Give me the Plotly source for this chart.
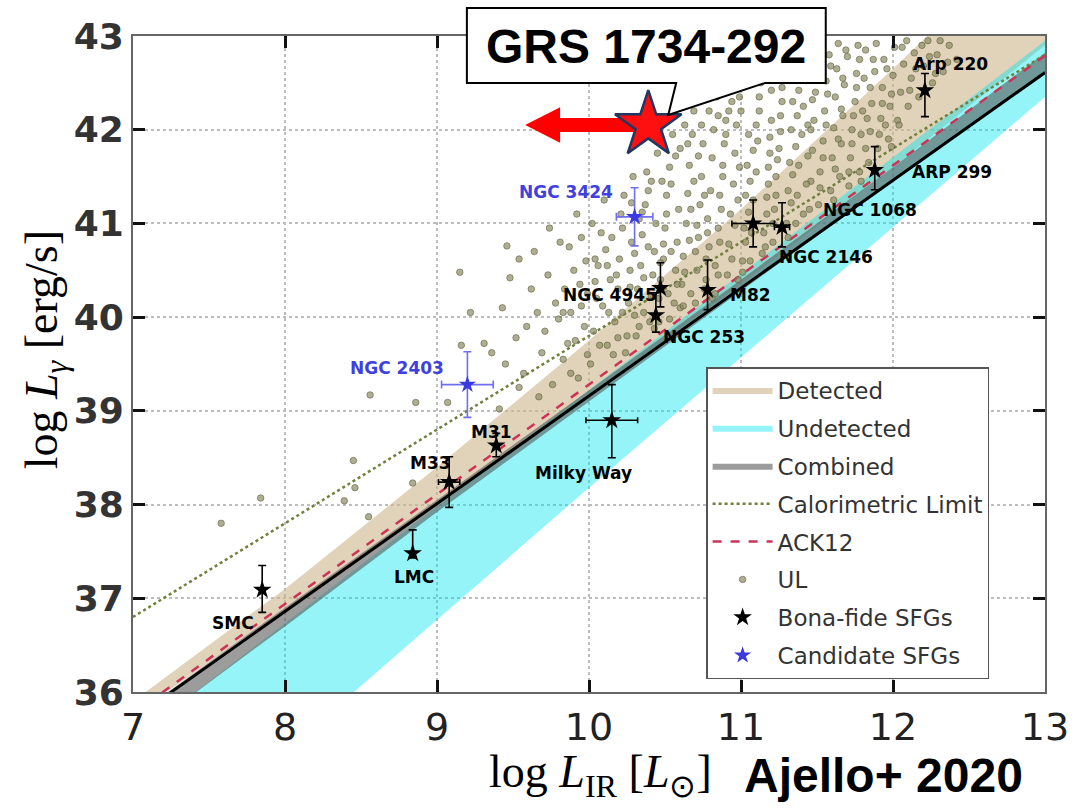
import plotly.graph_objects as go

# ---------------- data ----------------
# confidence bands of the L_IR - L_gamma fits, sampled at integer log L_IR
band_x = [7, 8, 9, 10, 11, 12, 13]
detected_lo = [35.75, 36.88, 38.02, 39.17, 40.35, 41.60, 42.90]
detected_hi = [35.90, 37.10, 38.40, 39.75, 41.15, 42.65, 44.20]
undetected_lo = [33.95, 35.35, 36.77, 38.18, 39.57, 40.96, 42.35]
undetected_hi = [35.49, 36.73, 37.98, 39.22, 40.46, 41.71, 42.95]
combined_lo = [35.50, 36.70, 37.92, 39.10, 40.28, 41.45, 42.60]
combined_hi = [35.73, 36.90, 38.05, 39.22, 40.40, 41.60, 42.82]

# straight relations: log Lg = norm + slope * (log L_IR - 10)
fit_norm, fit_slope = 39.16, 1.15          # best-fit (combined)
ack12_norm, ack12_slope = 39.28, 1.17      # Ackermann et al. 2012
calor_norm, calor_slope = 39.80, 1.00      # calorimetric limit

# bona-fide star-forming galaxies
sfg_names = ["SMC", "LMC", "M33", "M31", "Milky Way", "NGC 253", "NGC 4945",
             "M82", "NGC 2146", "NGC 1068", "ARP 299", "Arp 220"]
sfg_lir = [7.85, 8.84, 9.08, 9.39, 10.15, 10.44, 10.47, 10.78, 11.08, 11.27, 11.88, 12.21]
sfg_lg = [37.09, 37.48, 38.24, 38.63, 38.90, 40.02, 40.31, 40.29, 41.00, 40.96, 41.57, 42.42]
sfg_lg_up = [0.26, 0.25, 0.27, 0.13, 0.38, 0.24, 0.27, 0.32, 0.25, 0.26, 0.25, 0.18]
sfg_lg_dn = [0.24, 0.05, 0.27, 0.12, 0.40, 0.18, 0.20, 0.21, 0.25, 0.21, 0.21, 0.28]
sfg_lir_err = [0, 0, 0.07, 0, 0.17, 0, 0, 0, 0.14, 0.05, 0, 0]

# candidate star-forming galaxies
cand_names = ["NGC 2403", "NGC 3424"]
cand_lir = [9.20, 10.30]
cand_lg = [39.28, 41.07]
cand_lg_err = [0.35, 0.31]
cand_lir_err = [0.17, 0.12]

# GRS 1734-292 (upper limit on L_IR)
grs_lir, grs_lg, grs_lir_limit = 10.39, 42.05, 9.58

# upper limits of undetected galaxies (log L_IR, log L_gamma)
ul_points = [
    (9.41, 39.02), (9.45, 39.50), (9.43, 40.10), (9.52, 39.78), (9.48, 40.42), (9.54, 39.25),
    (9.57, 39.40), (9.59, 39.90), (9.62, 40.30), (9.64, 40.70), (9.67, 39.15), (9.69, 39.62), (9.66, 40.05),
    (9.71, 39.85), (9.73, 40.45), (9.76, 39.28), (9.78, 40.15), (9.81, 40.80), (9.83, 39.55), (9.84, 40.30),
    (9.80, 39.98), (9.74, 40.95),
    (9.86, 39.72), (9.88, 40.05), (9.90, 40.50), (9.93, 39.35), (9.95, 40.85), (9.97, 39.90), (9.99, 40.25),
    (9.92, 41.10), (9.98, 40.60), (9.87, 40.75),
    (10.01, 39.50), (10.03, 39.85), (10.05, 40.20), (10.06, 40.55), (10.08, 40.90), (10.10, 41.25),
    (10.12, 39.70), (10.13, 40.05), (10.14, 40.40), (10.02, 41.00), (10.11, 40.72), (10.04, 40.38),
    (10.16, 39.60), (10.17, 39.95), (10.19, 40.30), (10.20, 40.62), (10.22, 40.95), (10.23, 41.30),
    (10.25, 39.80), (10.26, 40.15), (10.27, 40.50), (10.28, 40.80), (10.29, 41.50), (10.21, 41.10),
    (10.18, 40.45), (10.30, 40.02),
    (10.31, 39.80), (10.32, 40.30), (10.34, 40.55), (10.35, 40.88), (10.37, 41.20), (10.38, 41.55),
    (10.40, 39.95), (10.41, 40.22), (10.43, 40.70), (10.44, 41.00), (10.45, 41.75), (10.36, 40.05),
    (10.39, 41.35), (10.42, 40.45), (10.33, 41.05),
    (10.46, 39.95), (10.47, 40.40), (10.49, 40.62), (10.50, 40.95), (10.51, 41.30), (10.53, 41.60),
    (10.55, 41.95), (10.56, 40.15), (10.57, 40.50), (10.58, 40.80), (10.59, 41.15), (10.48, 41.45),
    (10.52, 40.25), (10.60, 41.80), (10.54, 40.70), (10.60, 40.10),
    (10.61, 40.35), (10.62, 40.65), (10.64, 41.00), (10.65, 41.32), (10.66, 41.62), (10.68, 41.95),
    (10.69, 42.20), (10.70, 40.15), (10.71, 40.50), (10.72, 40.85), (10.73, 41.20), (10.74, 41.50),
    (10.63, 42.05), (10.67, 40.25), (10.75, 41.85), (10.70, 40.70),
    (10.76, 40.30), (10.77, 40.62), (10.78, 41.05), (10.80, 41.35), (10.81, 41.70), (10.82, 42.00),
    (10.84, 42.35), (10.85, 40.45), (10.86, 40.80), (10.87, 41.15), (10.88, 41.50), (10.89, 41.85),
    (10.79, 42.20), (10.83, 40.25), (10.90, 42.10), (10.78, 40.90),
    (10.91, 40.45), (10.92, 40.78), (10.93, 41.10), (10.95, 41.42), (10.96, 41.75), (10.97, 42.05),
    (10.99, 42.35), (11.00, 42.60), (11.01, 40.60), (11.02, 40.95), (11.03, 41.30), (11.04, 41.62),
    (10.94, 42.30), (11.05, 41.95), (10.98, 40.40), (11.00, 42.20),
    (11.06, 40.60), (11.07, 40.90), (11.08, 41.25), (11.10, 41.55), (11.11, 41.88), (11.12, 42.20),
    (11.13, 42.50), (11.15, 42.80), (11.16, 40.75), (11.17, 41.10), (11.18, 41.42), (11.19, 41.75),
    (11.20, 42.10), (11.09, 42.65), (11.14, 40.68), (11.20, 42.42),
    (11.21, 40.80), (11.22, 41.15), (11.23, 41.50), (11.25, 41.80), (11.26, 42.15), (11.27, 42.45),
    (11.28, 42.75), (11.29, 42.95), (11.30, 41.00), (11.31, 41.35), (11.32, 41.65), (11.33, 42.00),
    (11.34, 42.30), (11.35, 42.60), (11.24, 42.55), (11.30, 42.85),
    (11.36, 41.00), (11.37, 41.30), (11.38, 41.62), (11.40, 41.95), (11.41, 42.25), (11.42, 42.55),
    (11.43, 42.85), (11.45, 41.15), (11.46, 41.45), (11.47, 41.78), (11.48, 42.10), (11.49, 42.40),
    (11.50, 42.70), (11.39, 42.92), (11.44, 42.05),
    (11.51, 41.20), (11.52, 41.55), (11.54, 41.88), (11.55, 42.20), (11.56, 42.52), (11.58, 42.80),
    (11.59, 41.35), (11.60, 41.70), (11.61, 42.02), (11.62, 42.35), (11.63, 42.65), (11.64, 42.92),
    (11.53, 42.95), (11.65, 41.50),
    (11.66, 41.85), (11.67, 42.15), (11.68, 42.48), (11.70, 42.78), (11.71, 41.40), (11.72, 41.70),
    (11.73, 42.00), (11.75, 42.30), (11.76, 42.60), (11.77, 42.90), (11.78, 41.55), (11.79, 41.95),
    (11.80, 42.20),
    (11.81, 42.55), (11.82, 42.85), (11.84, 41.65), (11.85, 41.98), (11.86, 42.28), (11.88, 42.62),
    (11.89, 42.92), (11.90, 41.80), (11.92, 42.12), (11.93, 42.45), (11.94, 42.75), (11.95, 42.05),
    (11.97, 41.90), (11.98, 42.25), (12.00, 42.58), (12.01, 42.88), (12.03, 42.10), (12.05, 42.40),
    (12.07, 42.70), (12.09, 42.95), (12.10, 42.25), (12.12, 42.55), (12.14, 42.82),
    (12.17, 42.35), (12.20, 42.68), (12.23, 42.95), (12.26, 42.50), (12.29, 42.80), (12.33, 42.62),
    (12.37, 42.90), (12.42, 42.75),
    (9.15, 40.48), (9.31, 39.72), (9.16, 39.70), (9.36, 39.62), (9.07, 39.09), (8.86, 39.09),
    (8.56, 39.17), (8.45, 38.47), (7.84, 38.07), (7.58, 37.80), (8.39, 38.04), (8.55, 37.87),
    (8.46, 38.18), (8.84, 38.23), (9.22, 40.05), (9.46, 40.76), (9.54, 40.62),
    # denser core
    (10.24, 39.62), (10.27, 40.32), (10.30, 40.68), (10.33, 39.90), (10.36, 40.42), (10.39, 40.75),
    (10.22, 40.05), (10.35, 41.12), (10.28, 41.22),
    (10.43, 39.88), (10.46, 40.20), (10.49, 40.78), (10.51, 41.10), (10.54, 41.42), (10.57, 41.72),
    (10.47, 40.58), (10.58, 40.35), (10.41, 41.45), (10.53, 39.98),
    (10.62, 40.12), (10.63, 40.48), (10.66, 40.82), (10.67, 41.15), (10.69, 41.45), (10.72, 41.72),
    (10.74, 42.05), (10.77, 40.40), (10.79, 40.75), (10.65, 41.85), (10.71, 40.98), (10.76, 41.30),
    (10.81, 40.20), (10.83, 40.55), (10.85, 40.95), (10.86, 41.30), (10.88, 41.62), (10.90, 41.95),
    (10.92, 42.20), (10.94, 40.62), (10.96, 40.98), (10.98, 41.25), (10.99, 41.60), (10.85, 42.15),
    (10.93, 42.48),
    (11.01, 40.48), (11.03, 40.80), (11.05, 41.12), (11.06, 41.45), (11.08, 41.78), (11.10, 42.05),
    (11.12, 42.35), (11.14, 42.65), (11.15, 40.90), (11.17, 41.28), (11.18, 41.60), (11.19, 41.92),
    (11.05, 42.48), (11.11, 42.90),
    (11.21, 41.00), (11.23, 41.30), (11.24, 41.68), (11.26, 41.98), (11.27, 42.30), (11.29, 42.60),
    (11.31, 40.85), (11.33, 41.22), (11.34, 41.52), (11.36, 41.82), (11.37, 42.15), (11.38, 42.42),
    (11.35, 42.78), (11.22, 42.85),
    (11.41, 41.10), (11.43, 41.42), (11.44, 41.72), (11.46, 42.00), (11.47, 42.32), (11.49, 42.62),
    (11.50, 42.88), (11.52, 41.38), (11.54, 41.70), (11.56, 42.05), (11.57, 42.38), (11.59, 42.68),
    (11.45, 42.72),
    (11.61, 41.25), (11.62, 41.58), (11.64, 41.90), (11.66, 42.22), (11.67, 42.55), (11.69, 42.85),
    (11.71, 41.55), (11.73, 41.85), (11.74, 42.15), (11.76, 42.45), (11.78, 42.75), (11.79, 41.45),
    (11.82, 41.80), (11.83, 42.12), (11.85, 42.45), (11.87, 42.75), (11.91, 41.95), (11.93, 42.28),
    (11.96, 42.65), (11.99, 42.38), (11.99, 41.82),
    (12.04, 42.05), (12.06, 42.88), (12.11, 42.42), (12.15, 42.65), (12.19, 42.90), (12.24, 42.78),
    (12.28, 42.60), (12.31, 42.95), (12.36, 42.72),
    (9.83, 40.05), (9.88, 39.40), (9.91, 39.75), (9.95, 40.12), (9.99, 39.60), (10.04, 40.62),
    (10.07, 39.70), (10.09, 40.12), (10.12, 40.55), (10.15, 40.85), (10.19, 39.78), (9.94, 40.35),
]
ul_lir = [p[0] for p in ul_points]
ul_lg = [p[1] for p in ul_points]

# ---------------- figure geometry (pixels) ----------------
W, H = 1081, 809
L_PX, R_PX, T_PX, B_PX = 133, 1048, 36, 692


def paper(px, py):
    """Pixel position on the page -> paper coordinates."""
    return (px - L_PX) / (R_PX - L_PX), (B_PX - py) / (B_PX - T_PX)


def line_y(norm, slope, xs):
    return [norm + slope * (x - 10) for x in xs]


fig = go.Figure()


def band(name, lo, hi, color):
    fig.add_trace(go.Scatter(
        x=band_x + band_x[::-1], y=hi + lo[::-1], mode="lines", fill="toself",
        fillcolor=color, line=dict(width=0), name=name, legendgroup=name,
        hoverinfo="skip"))


band("Detected", detected_lo, detected_hi, "rgba(205,180,140,0.6)")
band("Undetected", undetected_lo, undetected_hi, "rgba(0,228,238,0.42)")
band("Combined", combined_lo, combined_hi, "rgba(90,90,90,0.6)")

xl = [7, 13]
fig.add_trace(go.Scatter(
    x=xl, y=line_y(calor_norm, calor_slope, xl), mode="lines",
    name="Calorimetric Limit", legendgroup="Calorimetric Limit",
    line=dict(color="#6f7f3c", width=2.5, dash="dot")))
fig.add_trace(go.Scatter(
    x=xl, y=line_y(ack12_norm, ack12_slope, xl), mode="lines",
    name="ACK12", legendgroup="ACK12",
    line=dict(color="#cc3355", width=2.5, dash="dash")))

# upper limits
fig.add_trace(go.Scatter(
    x=ul_lir, y=ul_lg, mode="markers", name="UL", legendgroup="UL",
    marker=dict(size=6.5, color="rgba(140,140,100,0.7)",
                line=dict(width=0.8, color="rgba(90,90,55,0.7)"))))

# best-fit relation (no legend entry)
fig.add_trace(go.Scatter(
    x=xl, y=line_y(fit_norm, fit_slope, xl), mode="lines",
    showlegend=False, line=dict(color="black", width=3)))

fig.add_trace(go.Scatter(
    x=sfg_lir, y=sfg_lg, mode="markers", name="Bona-fide SFGs",
    legendgroup="Bona-fide SFGs",
    marker=dict(symbol="star", size=14, color="black"),
    error_y=dict(type="data", symmetric=False, array=sfg_lg_up,
                 arrayminus=sfg_lg_dn, color="black", thickness=1.6, width=4),
    error_x=dict(type="data", array=sfg_lir_err, color="black",
                 thickness=1.6, width=3)))
fig.add_trace(go.Scatter(
    x=cand_lir, y=cand_lg, mode="markers", name="Candidate SFGs",
    legendgroup="Candidate SFGs",
    marker=dict(symbol="star", size=13, color="#3a3ae0"),
    error_y=dict(type="data", array=cand_lg_err, color="#6f6ff0",
                 thickness=1.6, width=4),
    error_x=dict(type="data", array=cand_lir_err, color="#6f6ff0",
                 thickness=1.6, width=4)))

# GRS 1734-292: arrow towards lower L_IR and the star marker
shaft, head = 0.075, 0.19
head_base = grs_lir_limit + 0.23
fig.add_trace(go.Scatter(
    x=[grs_lir, head_base, head_base, grs_lir_limit, head_base, head_base, grs_lir],
    y=[grs_lg + shaft, grs_lg + shaft, grs_lg + head, grs_lg, grs_lg - head,
       grs_lg - shaft, grs_lg - shaft],
    mode="lines", fill="toself", fillcolor="#ff0000", line=dict(width=0),
    showlegend=False, hoverinfo="skip"))
fig.add_trace(go.Scatter(
    x=[grs_lir], y=[grs_lg], mode="markers", showlegend=False,
    marker=dict(symbol="star", size=50, color="#ff1010",
                line=dict(color="#1f3864", width=2.5))))

# galaxy labels
label_font = dict(family="DejaVu Sans", size=17, color="black", weight="bold")
sfg_label_x = [7.656, 8.85, 8.96, 9.36, 9.964, 10.757, 10.14, 11.06, 11.557, 11.846, 12.39, 12.377]
sfg_label_y = [36.735, 37.226, 38.44, 38.77, 38.336, 39.79, 40.24, 40.24, 40.64, 41.14, 41.55, 42.70]
for name, lx, ly in zip(sfg_names, sfg_label_x, sfg_label_y):
    fig.add_annotation(x=lx, y=ly, text=name, showarrow=False, font=label_font,
                       xanchor="center", yanchor="middle")
cand_label_x = [8.738, 9.846]
cand_label_y = [39.457, 41.335]
for name, lx, ly in zip(cand_names, cand_label_x, cand_label_y):
    fig.add_annotation(x=lx, y=ly, text=name, showarrow=False,
                       xanchor="center", yanchor="middle",
                       font=dict(family="DejaVu Sans", size=17, color="#4040e0",
                                 weight="bold"))

# callout box for GRS 1734-292
pts = [(678, 83), (468, 83), (468, 8), (828, 8), (828, 83), (767, 83), (670, 115)]
pp = [paper(*p) for p in pts]
path = "M " + " L ".join(f"{a:.4f},{b:.4f}" for a, b in pp) + " Z"
fig.add_shape(type="path", path=path, xref="paper", yref="paper",
              fillcolor="white", line=dict(color="black", width=2), layer="above")
gx, gy = paper(648, 46)
fig.add_annotation(x=gx, y=gy, xref="paper", yref="paper", text="<b>GRS 1734-292</b>",
                   showarrow=False, xanchor="center", yanchor="middle",
                   font=dict(family="Liberation Sans", size=48, color="black"))

# axis titles
tx, ty = paper(45, 350)
fig.add_annotation(x=tx, y=ty, xref="paper", yref="paper", textangle=-90,
                   text="log <i>L</i><sub><i>γ</i></sub> [erg/s]", showarrow=False,
                   xanchor="center", yanchor="middle",
                   font=dict(family="Liberation Serif", size=46, color="black"))
tx, ty = paper(602, 775)
fig.add_annotation(x=tx, y=ty, xref="paper", yref="paper",
                   text="log <i>L</i><sub>IR</sub> [<i>L</i><sub>⊙</sub>]", showarrow=False,
                   xanchor="center", yanchor="middle",
                   font=dict(family="Liberation Serif", size=46, color="black"))
tx, ty = paper(886, 775)
fig.add_annotation(x=tx, y=ty, xref="paper", yref="paper",
                   text="<b>Ajello+ 2020</b>", showarrow=False,
                   xanchor="center", yanchor="middle",
                   font=dict(family="Liberation Sans", size=48, color="black"))

axis_common = dict(
    showline=True, linecolor="#666", linewidth=2, mirror="ticks",
    ticks="inside", ticklen=12, tickwidth=2.5, tickcolor="#111",
    showgrid=True, gridcolor="#bdbdbd", griddash="dot", gridwidth=1.5,
    zeroline=False, dtick=1)

lx0, ly0 = paper(708, 367)
fig.update_layout(
    width=W, height=H,
    margin=dict(l=L_PX, r=W - R_PX, t=T_PX, b=H - B_PX),
    paper_bgcolor="white", plot_bgcolor="white",
    xaxis=dict(range=[7, 13], tickfont=dict(family="DejaVu Sans", size=38, color="#222"),
               **axis_common),
    yaxis=dict(range=[36, 43], tickfont=dict(family="DejaVu Sans", size=36, color="#333",
                                             weight="bold"),
               **axis_common),
    legend=dict(x=lx0, y=ly0, xanchor="left", yanchor="top", bgcolor="white",
                bordercolor="#555", borderwidth=1.5, traceorder="grouped",
                tracegroupgap=5, itemwidth=60,
                font=dict(family="DejaVu Sans", size=23, color="#333")),
    showlegend=True,
)

fig.write_html("out.html")
